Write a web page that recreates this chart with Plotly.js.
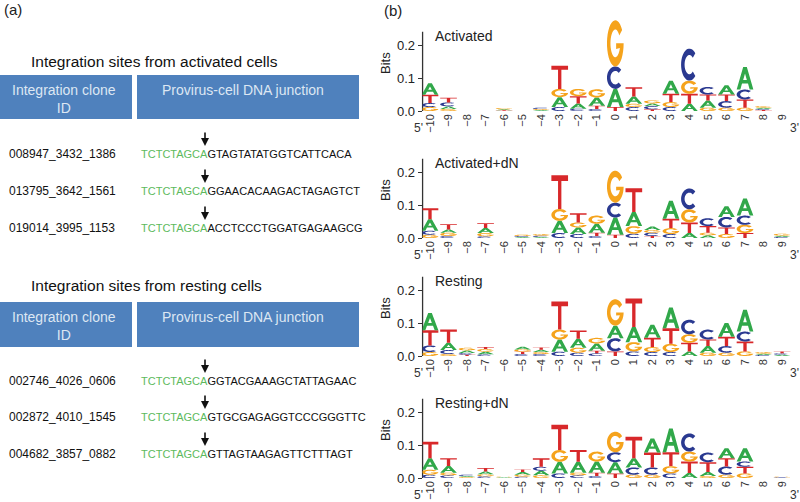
<!DOCTYPE html>
<html><head><meta charset="utf-8">
<script src="https://cdn.plot.ly/plotly-3.0.1.min.js"></script>
<style>html,body{margin:0;padding:0;background:#fff}#chart{width:800px;height:502px}</style>
</head><body><div id="chart"></div>
<script>
// ---------- DATA ----------
const positions = [-10,-9,-8,-7,-6,-5,-4,-3,-2,-1,0,1,2,3,4,5,6,7,8,9];
const panelNames = ['Activated','Activated+dN','Resting','Resting+dN'];
// stacks per position, bottom -> top, [base, bits]
const activated = [
 [['G',0.012],['C',0.012],['T',0.025],['A',0.035]],
 [['G',0.006],['A',0.008],['C',0.012],['T',0.014]],
 [],
 [],
 [['T',0.002],['A',0.003],['G',0.004]],
 [],
 [['A',0.003],['G',0.003],['C',0.004]],
 [['C',0.012],['A',0.03],['G',0.025],['T',0.07]],
 [['C',0.007],['A',0.016],['T',0.022],['G',0.022]],
 [['C',0.006],['T',0.01],['A',0.025],['G',0.025]],
 [['T',0.012],['A',0.055],['C',0.068],['G',0.14]],
 [['C',0.012],['G',0.01],['A',0.022],['T',0.028]],
 [['T',0.005],['C',0.01],['A',0.008],['G',0.009]],
 [['C',0.012],['G',0.015],['T',0.025],['A',0.04]],
 [['A',0.022],['T',0.03],['G',0.04],['C',0.097]],
 [['G',0.01],['A',0.022],['T',0.018],['C',0.023]],
 [['G',0.01],['C',0.02],['T',0.02],['A',0.028]],
 [['G',0.01],['T',0.025],['C',0.03],['A',0.068]],
 [['T',0.003],['C',0.003],['A',0.004],['G',0.005]],
 []
];
const activatedDN = [
 [['G',0.01],['C',0.012],['A',0.035],['T',0.033]],
 [['C',0.006],['G',0.01],['A',0.01],['T',0.016]],
 [],
 [['C',0.005],['G',0.01],['A',0.015],['T',0.015]],
 [],
 [['A',0.003],['C',0.003],['G',0.004]],
 [['A',0.003],['C',0.004],['G',0.005]],
 [['C',0.015],['A',0.037],['G',0.036],['T',0.102]],
 [['C',0.012],['A',0.02],['G',0.015],['T',0.028]],
 [['C',0.006],['T',0.01],['A',0.027],['G',0.025]],
 [['T',0.01],['A',0.052],['C',0.045],['G',0.097]],
 [['C',0.013],['G',0.023],['A',0.043],['T',0.072]],
 [['T',0.006],['C',0.01],['G',0.008],['A',0.011]],
 [['C',0.012],['G',0.018],['T',0.028],['A',0.055]],
 [['A',0.015],['T',0.032],['G',0.04],['C',0.063]],
 [['A',0.008],['G',0.008],['T',0.02],['C',0.024]],
 [['G',0.012],['T',0.02],['C',0.032],['A',0.032]],
 [['T',0.015],['G',0.025],['C',0.028],['A',0.052]],
 [],
 [['C',0.003],['A',0.004],['G',0.006]]
];
const resting = [
 [['G',0.012],['C',0.02],['T',0.046],['A',0.052]],
 [['G',0.006],['C',0.012],['A',0.022],['T',0.04]],
 [['T',0.004],['C',0.005],['A',0.008],['G',0.008]],
 [['C',0.005],['A',0.008],['G',0.008],['T',0.006]],
 [],
 [['C',0.006],['T',0.007],['G',0.007],['A',0.008]],
 [['C',0.006],['G',0.006],['A',0.007],['T',0.007]],
 [['C',0.013],['A',0.037],['G',0.03],['T',0.085]],
 [['C',0.01],['G',0.015],['A',0.027],['T',0.025]],
 [['C',0.008],['T',0.008],['A',0.022],['G',0.017]],
 [['T',0.014],['C',0.04],['A',0.038],['G',0.08]],
 [['C',0.014],['G',0.028],['A',0.046],['T',0.086]],
 [['C',0.012],['G',0.015],['T',0.028],['A',0.04]],
 [['C',0.012],['G',0.025],['T',0.047],['A',0.063]],
 [['A',0.014],['T',0.026],['G',0.026],['C',0.044]],
 [['G',0.01],['A',0.02],['T',0.02],['C',0.03]],
 [['G',0.01],['C',0.02],['T',0.028],['A',0.042]],
 [['G',0.014],['T',0.03],['C',0.03],['A',0.066]],
 [['C',0.003],['A',0.004],['G',0.005]],
 [['A',0.004],['C',0.004],['T',0.006]]
];
const restingDN = [
 [['C',0.01],['G',0.015],['A',0.035],['T',0.05]],
 [['C',0.008],['G',0.008],['A',0.02],['T',0.024]],
 [['G',0.003],['A',0.003],['C',0.004]],
 [['C',0.005],['G',0.006],['A',0.009],['T',0.01]],
 [['A',0.002],['G',0.002]],
 [['C',0.004],['G',0.006],['A',0.008],['T',0.008]],
 [['G',0.008],['A',0.014],['C',0.012],['T',0.026]],
 [['C',0.014],['A',0.035],['G',0.036],['T',0.076]],
 [['C',0.008],['G',0.008],['A',0.033],['T',0.036]],
 [['C',0.006],['T',0.01],['A',0.034],['G',0.03]],
 [['T',0.014],['A',0.034],['C',0.03],['G',0.062]],
 [['G',0.01],['C',0.022],['A',0.028],['T',0.065]],
 [['G',0.01],['C',0.022],['T',0.045],['A',0.043]],
 [['C',0.014],['G',0.022],['T',0.042],['A',0.072]],
 [['A',0.015],['T',0.035],['G',0.03],['C',0.055]],
 [['G',0.006],['A',0.012],['T',0.03],['C',0.029]],
 [['G',0.01],['C',0.025],['T',0.025],['A',0.03]],
 [['G',0.014],['T',0.02],['C',0.016],['A',0.04]],
 [],
 [['C',0.002],['G',0.002]]
];
const yTickVals = [0, 0.1, 0.2];
const yTickText = ['0.0', '0.1', '0.2'];

// panel (a) data
const junctionPrefix = 'TCTCTAGCA';
const activatedIds = ['008947_3432_1386','013795_3642_1561','019014_3995_1153'];
const activatedSeqs = ['GTAGTATATGGTCATTCACA','GGAACACAAGACTAGAGTCT','ACCTCCCTGGATGAGAAGCG'];
const restingIds = ['002746_4026_0606','002872_4010_1545','004682_3857_0882'];
const restingSeqs = ['GGTACGAAAGCTATTAGAAC','GTGCGAGAGGTCCCGGGTTC','GTTAGTAAGAGTTCTTTAGT'];

// ---------- STYLE / LAYOUT ----------
const FONT = 'Liberation Sans, Arial, Helvetica, sans-serif';
const W = 800, H = 502;
const COLORS = {A:'#31a84a', C:'#2a3990', G:'#f5a31c', T:'#d8282a'};
const GREEN_SEQ = '#5dba5d';
const BLUE_HDR = '#4f81bd';
const HDR_TXT = '#dde7f3';

function arc(cx,cy,rx,ry,a0,a1,n){const p=[];for(let i=0;i<=n;i++){const a=(a0+(a1-a0)*i/n)*Math.PI/180;p.push([cx+rx*Math.cos(a),cy+ry*Math.sin(a)]);}return p;}
const GLYPHS = {
  T:[[[0,1],[1,1],[1,0.83],[0.6,0.83],[0.6,0],[0.4,0],[0.4,0.83],[0,0.83]]],
  A:[[[0,0],[0.39,1],[0.61,1],[1,0],[0.78,0],[0.68,0.27],[0.32,0.27],[0.22,0]],
     [[0.39,0.43],[0.61,0.43],[0.5,0.72]]],
  C:[arc(.5,.5,.5,.5,45,315,32).concat(arc(.5,.5,.29,.3,315,45,32))],
  G:[arc(.5,.5,.5,.5,35,360,32).concat([[0.55,0.5],[0.55,0.38]]).concat(arc(.5,.5,.29,.3,340,35,32))]
};
const LW = 0.9;
function glyphPath(letter, xc, y0, h){
  return GLYPHS[letter].map(sub => 'M' + sub.map(([u,v]) =>
    (xc - LW/2 + u*LW).toFixed(4) + ',' + (y0 + v*h).toFixed(5)).join('L') + 'Z').join(' ');
}

const baselines = [111, 238, 356, 478];    // px of 0 bits
const PX_PER_BIT = 330;
const Y_TOP = 0.29;
const X_LO = -10.4, X_HI = 9.75;
const PX_POS0 = 430, PX_STEP = 18.53;
const xd0 = (PX_POS0 + (X_LO - positions[0]) * PX_STEP) / W;
const xd1 = (PX_POS0 + (X_HI - positions[0]) * PX_STEP) / W;

const panels = [activated, activatedDN, resting, restingDN];
const tickText = positions.map(p => p < 0 ? '\u2212' + (-p) : String(p));

const px = x => x / W;
const py = y => 1 - y / H;

const layout = {
  width: W, height: H,
  margin: {l:0, r:0, t:0, b:0},
  paper_bgcolor: '#fff', plot_bgcolor: 'rgba(0,0,0,0)',
  showlegend: false,
  font: {family: FONT, color: '#222'},
  shapes: [], annotations: []
};
const traces = [];

panels.forEach((stacks, i) => {
  const s = i === 0 ? '' : String(i + 1);
  const B = baselines[i];
  const yd0 = 1 - B / H, yd1 = 1 - (B - Y_TOP * PX_PER_BIT) / H;
  layout['xaxis' + s] = {
    domain: [xd0, xd1], range: [X_LO, X_HI], anchor: 'y' + s,
    tickmode: 'array', tickvals: positions, ticktext: tickText, tickangle: -90,
    tickfont: {size: 11, color: '#333', family: FONT},
    showgrid: false, zeroline: false, showline: false, ticks: '', fixedrange: true
  };
  layout['yaxis' + s] = {
    domain: [yd0, yd1], range: [0, Y_TOP], anchor: 'x' + s,
    tickmode: 'array', tickvals: yTickVals, ticktext: yTickText,
    ticks: 'outside', ticklen: 4, tickwidth: 1, tickcolor: '#333',
    tickfont: {size: 13, color: '#222', family: FONT},
    title: {text: 'Bits', font: {size: 13, color: '#222', family: FONT}, standoff: 3},
    showgrid: false, zeroline: false, showline: false, fixedrange: true
  };
  // y axis line up to 0.24
  layout.shapes.push({type:'line', xref:'paper', yref:'y' + s, x0: xd0, x1: xd0, y0: 0, y1: 0.24,
    line: {color: '#333', width: 1.3}});
  // letters
  const totals = [];
  stacks.forEach((stack, j) => {
    let y = 0;
    stack.forEach(([b, h]) => {
      layout.shapes.push({type:'path', xref:'x' + s, yref:'y' + s,
        path: glyphPath(b, positions[j], y, h), fillcolor: COLORS[b], line: {width: 0}, layer: 'above'});
      y += h;
    });
    totals.push(y);
  });
  traces.push({type:'scatter', mode:'markers', x: positions, y: totals, xaxis:'x' + s, yaxis:'y' + s,
    marker: {opacity: 0, size: 10}, name: panelNames[i], hovertemplate: panelNames[i] + ' %{x}: %{y:.3f} bits<extra></extra>'});
  // panel label
  layout.annotations.push({text: panelNames[i], xref:'paper', yref:'paper', x: px(433), y: py(B - 75),
    xanchor:'left', yanchor:'middle', showarrow:false, font:{size:14, color:'#222', family:FONT}});
  // 5' and 3'
  layout.annotations.push({text: "5'", xref:'paper', yref:'paper', x: px(418), y: py(B + 17),
    xanchor:'center', yanchor:'middle', showarrow:false, font:{size:12, color:'#333', family:FONT}});
  layout.annotations.push({text: "3'", xref:'paper', yref:'paper', x: px(794), y: py(B + 17),
    xanchor:'center', yanchor:'middle', showarrow:false, font:{size:12, color:'#333', family:FONT}});
});

// panel letters
layout.annotations.push({text:'(a)', xref:'paper', yref:'paper', x:px(2), y:py(10), xanchor:'left', yanchor:'middle',
  showarrow:false, font:{size:15, color:'#222', family:FONT}});
layout.annotations.push({text:'(b)', xref:'paper', yref:'paper', x:px(382), y:py(11), xanchor:'left', yanchor:'middle',
  showarrow:false, font:{size:15, color:'#222', family:FONT}});

// panel (a) tables
function table(title, titleY, hdrTop, hdrBot, ids, seqs, rowYs){
  layout.annotations.push({text:title, xref:'paper', yref:'paper', x:px(29), y:py(titleY), xanchor:'left', yanchor:'middle',
    showarrow:false, font:{size:15.5, color:'#111', family:FONT}});
  layout.shapes.push({type:'rect', xref:'paper', yref:'paper', x0:px(0), x1:px(132), y0:py(hdrTop), y1:py(hdrBot),
    fillcolor:BLUE_HDR, line:{width:0}, layer:'below'});
  layout.shapes.push({type:'rect', xref:'paper', yref:'paper', x0:px(137), x1:px(359), y0:py(hdrTop), y1:py(hdrBot),
    fillcolor:BLUE_HDR, line:{width:0}, layer:'below'});
  layout.annotations.push({text:'Integration clone<br>ID', xref:'paper', yref:'paper', x:px(64), y:py(hdrTop + 5),
    xanchor:'center', yanchor:'top', align:'center', showarrow:false, font:{size:14, color:HDR_TXT, family:FONT}});
  layout.annotations.push({text:'Provirus-cell DNA junction', xref:'paper', yref:'paper', x:px(243), y:py(hdrTop + 5),
    xanchor:'center', yanchor:'top', showarrow:false, font:{size:14, color:HDR_TXT, family:FONT}});
  ids.forEach((id, k) => {
    const y = rowYs[k];
    layout.annotations.push({text:id, xref:'paper', yref:'paper', x:px(7), y:py(y), xanchor:'left', yanchor:'middle',
      showarrow:false, font:{size:12, color:'#111', family:FONT}});
    layout.annotations.push({text:'<span style="color:' + GREEN_SEQ + '">' + junctionPrefix + '</span>' + seqs[k],
      xref:'paper', yref:'paper', x:px(139), y:py(y), xanchor:'left', yanchor:'middle',
      showarrow:false, font:{size:11, color:'#111', family:FONT}});
    layout.annotations.push({text:'', xref:'paper', yref:'paper', x:px(205), y:py(y - 8), axref:'pixel', ayref:'pixel',
      ax:0, ay:-15, showarrow:true, arrowhead:2, arrowsize:1, arrowwidth:1.6, arrowcolor:'#111'});
  });
}
table('Integration sites from activated cells', 61, 75, 119, activatedIds, activatedSeqs, [154, 191, 228]);
table('Integration sites from resting cells', 285, 302, 347, restingIds, restingSeqs, [381, 417, 454]);

Plotly.newPlot('chart', traces, layout, {displayModeBar:false, staticPlot:true});
</script>
</body></html>
